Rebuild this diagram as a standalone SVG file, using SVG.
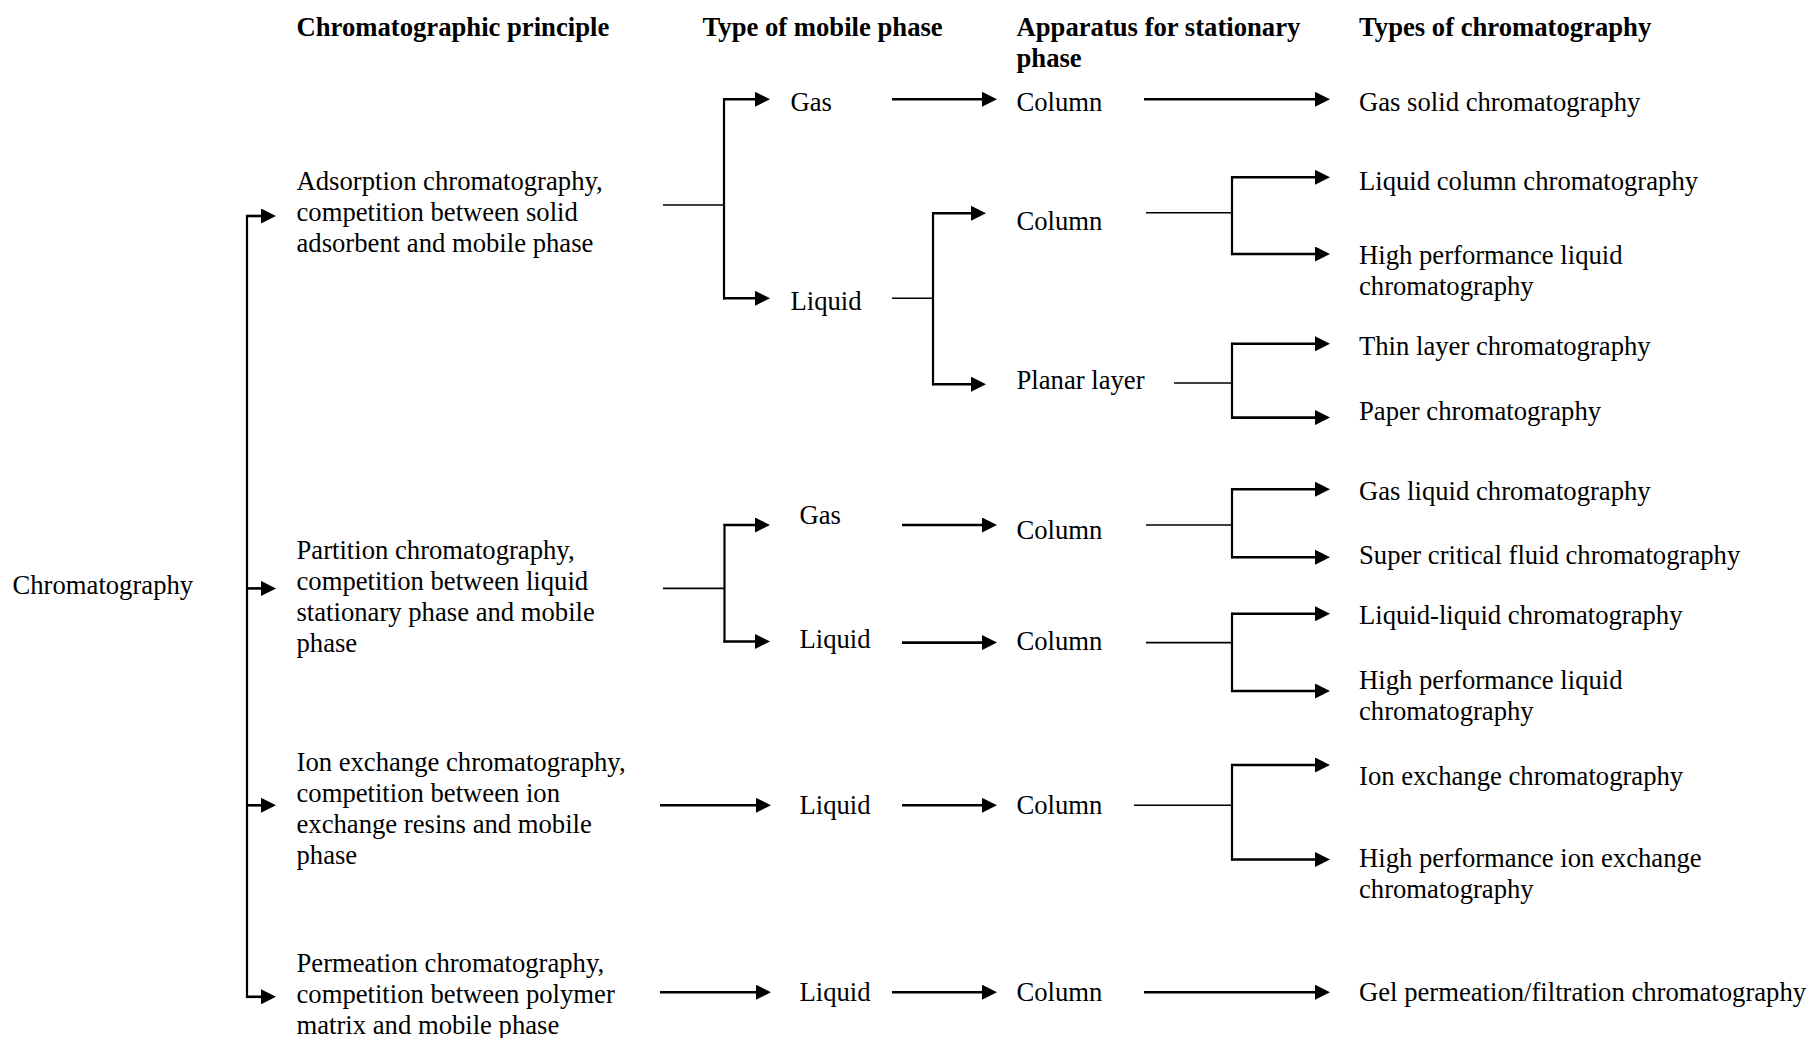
<svg xmlns="http://www.w3.org/2000/svg" width="1809" height="1038" viewBox="0 0 1809 1038">
<style>
text { font-family: "Liberation Serif", "Times New Roman", serif; font-size: 26.67px; fill: #000; }
.h { font-weight: bold; }
.a { fill: none; stroke: #000; stroke-width: 2.6; marker-end: url(#ah); }
.s { fill: none; stroke: #000; stroke-width: 1.6; }
.v { fill: none; stroke: #000; stroke-width: 2.2; }
</style>
<defs>
<marker id="ah" markerUnits="userSpaceOnUse" viewBox="0 0 15 15" refX="11" refY="7.5" markerWidth="15" markerHeight="15" orient="auto">
<path d="M0,0 L15,7.5 L0,15 z" fill="#000"/>
</marker>
</defs>
<rect width="1809" height="1038" fill="#fff"/>

<g id="nodes" transform="translate(0,1.5)">
<g id="headers">
<text class="h" x="296.5" y="34">Chromatographic principle</text>
<text class="h" x="702.5" y="34">Type of mobile phase</text>
<text class="h" x="1016.5" y="34">Apparatus for stationary<tspan x="1016.5" dy="31">phase</tspan></text>
<text class="h" x="1359" y="34">Types of chromatography</text>
</g>

<g id="n-chromatography"><text x="12.5" y="592">Chromatography</text></g>

<g id="n-adsorption"><text x="296.5" y="188">Adsorption chromatography,<tspan x="296.5" dy="31">competition between solid</tspan><tspan x="296.5" dy="31">adsorbent and mobile phase</tspan></text></g>
<g id="n-ads-gas"><text x="790.5" y="109">Gas</text></g>
<g id="n-ads-gas-column"><text x="1016.5" y="109">Column</text></g>
<g id="n-gsc"><text x="1359" y="109">Gas solid chromatography</text></g>
<g id="n-ads-liquid"><text x="790.5" y="308">Liquid</text></g>
<g id="n-ads-liq-column"><text x="1016.5" y="228">Column</text></g>
<g id="n-lcc"><text x="1359" y="188">Liquid column chromatography</text></g>
<g id="n-hplc1"><text x="1359" y="262">High performance liquid<tspan x="1359" dy="31">chromatography</tspan></text></g>
<g id="n-planar"><text x="1016.5" y="387">Planar layer</text></g>
<g id="n-tlc"><text x="1359" y="353">Thin layer chromatography</text></g>
<g id="n-paper"><text x="1359" y="418.5">Paper chromatography</text></g>

<g id="n-partition"><text x="296.5" y="557">Partition chromatography,<tspan x="296.5" dy="31">competition between liquid</tspan><tspan x="296.5" dy="31">stationary phase and mobile</tspan><tspan x="296.5" dy="31">phase</tspan></text></g>
<g id="n-part-gas"><text x="799.5" y="522.5">Gas</text></g>
<g id="n-part-gas-column"><text x="1016.5" y="537.5">Column</text></g>
<g id="n-glc"><text x="1359" y="498.5">Gas liquid chromatography</text></g>
<g id="n-scfc"><text x="1359" y="562">Super critical fluid chromatography</text></g>
<g id="n-part-liquid"><text x="799.5" y="646">Liquid</text></g>
<g id="n-part-liq-column"><text x="1016.5" y="648">Column</text></g>
<g id="n-llc"><text x="1359" y="622">Liquid-liquid chromatography</text></g>
<g id="n-hplc2"><text x="1359" y="687.5">High performance liquid<tspan x="1359" dy="31">chromatography</tspan></text></g>

<g id="n-ion"><text x="296.5" y="769.5">Ion exchange chromatography,<tspan x="296.5" dy="31">competition between ion</tspan><tspan x="296.5" dy="31">exchange resins and mobile</tspan><tspan x="296.5" dy="31">phase</tspan></text></g>
<g id="n-ion-liquid"><text x="799.5" y="812">Liquid</text></g>
<g id="n-ion-column"><text x="1016.5" y="812">Column</text></g>
<g id="n-iec"><text x="1359" y="783.5">Ion exchange chromatography</text></g>
<g id="n-hpiec"><text x="1359" y="865">High performance ion exchange<tspan x="1359" dy="31">chromatography</tspan></text></g>

<g id="n-permeation"><text x="296.5" y="970">Permeation chromatography,<tspan x="296.5" dy="31">competition between polymer</tspan><tspan x="296.5" dy="31">matrix and mobile phase</tspan></text></g>
<g id="n-perm-liquid"><text x="799.5" y="999">Liquid</text></g>
<g id="n-perm-column"><text x="1016.5" y="999">Column</text></g>
<g id="n-gpc"><text x="1359" y="999">Gel permeation/filtration chromatography</text></g>
</g>

<g id="connectors">
<!-- main trunk -->
<path class="v" d="M247,215 V998"/>
<path class="a" d="M246,216 H272"/>
<path class="a" d="M246,588.4 H272"/>
<path class="a" d="M246,805.3 H272"/>
<path class="a" d="M246,996.8 H272"/>

<!-- adsorption -->
<path class="s" d="M663,205 H724"/>
<path class="v" d="M724,98.2 V299.4"/>
<path class="a" d="M723,99.3 H766"/>
<path class="a" d="M723,298.3 H766"/>
<path class="a" d="M892,99.3 H993"/>
<path class="a" d="M1144,99.3 H1326"/>
<path class="s" d="M892,298.3 H933"/>
<path class="v" d="M933,212.2 V385.3"/>
<path class="a" d="M932,213.3 H982"/>
<path class="a" d="M932,384.2 H982"/>
<path class="s" d="M1146,212.7 H1232"/>
<path class="v" d="M1232,176.2 V255.1"/>
<path class="a" d="M1231,177.3 H1326"/>
<path class="a" d="M1231,254 H1326"/>
<path class="s" d="M1174,383 H1232"/>
<path class="v" d="M1232,342.7 V418.7"/>
<path class="a" d="M1231,343.8 H1326"/>
<path class="a" d="M1231,417.6 H1326"/>

<!-- partition -->
<path class="s" d="M663,588.4 H724.5"/>
<path class="v" d="M724.5,523.9 V642.6"/>
<path class="a" d="M723.5,525 H766"/>
<path class="a" d="M723.5,641.5 H766"/>
<path class="a" d="M902,525 H993"/>
<path class="s" d="M1146,525 H1232"/>
<path class="v" d="M1232,488.1 V558.3"/>
<path class="a" d="M1231,489.2 H1326"/>
<path class="a" d="M1231,557.2 H1326"/>
<path class="a" d="M902,642.6 H993"/>
<path class="s" d="M1146,642.6 H1232"/>
<path class="v" d="M1232,612.7 V692.1"/>
<path class="a" d="M1231,613.8 H1326"/>
<path class="a" d="M1231,691 H1326"/>

<!-- ion exchange -->
<path class="a" d="M660,805.3 H767"/>
<path class="a" d="M902,805.3 H993"/>
<path class="s" d="M1134,805.3 H1232"/>
<path class="v" d="M1232,763.9 V860.6"/>
<path class="a" d="M1231,765 H1326"/>
<path class="a" d="M1231,859.5 H1326"/>

<!-- permeation -->
<path class="a" d="M660,992.2 H767"/>
<path class="a" d="M892,992.2 H993"/>
<path class="a" d="M1144,992.2 H1326"/>
</g>
</svg>
